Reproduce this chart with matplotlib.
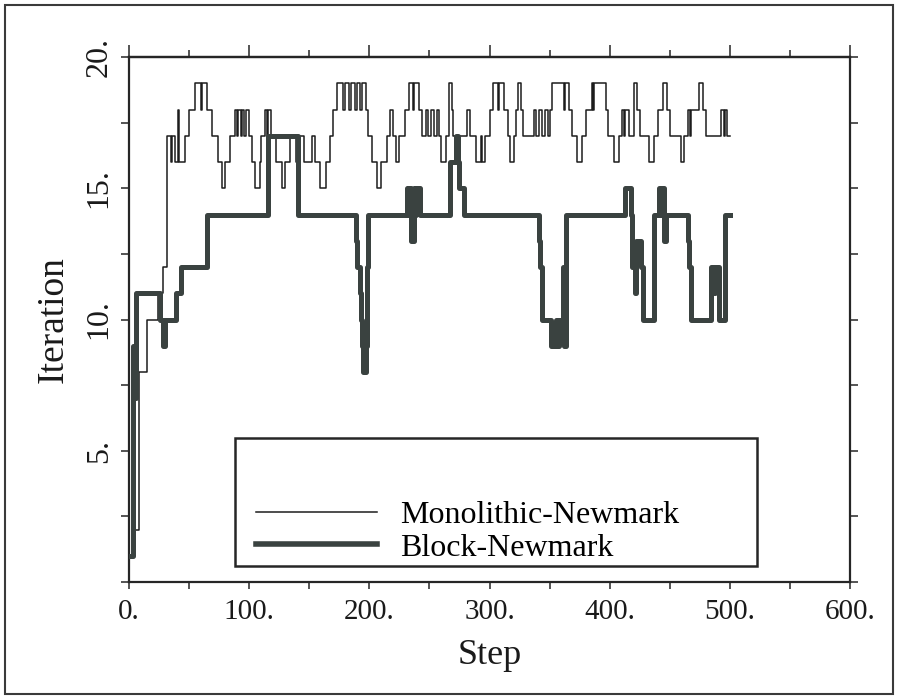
import matplotlib
matplotlib.use('Agg')
import matplotlib.pyplot as plt
from matplotlib.patches import Rectangle
import numpy as np

plt.rcParams['font.family'] = ['Liberation Serif', 'DejaVu Serif']

# step at which each value starts, and the iteration count
mono_start = [0, 3, 8, 15, 24, 28, 32, 35, 36, 38, 41, 42, 47, 50, 55, 60, 61, 65, 69, 74,
              77, 80, 84, 88, 90, 91, 93, 94, 96, 97, 100, 102, 105, 109, 110, 113, 115, 116, 118, 122,
              127, 130, 134, 139, 141, 146, 152, 155, 159, 164, 167, 170, 173, 178, 180, 183, 185, 188, 190, 192,
              194, 197, 199, 202, 206, 210, 215, 217, 220, 222, 225, 230, 233, 236, 237, 241, 244, 247, 249, 251,
              254, 256, 258, 260, 264, 266, 269, 270, 281, 284, 289, 293, 294, 296, 300, 303, 307, 308, 312, 315,
              317, 320, 322, 324, 326, 328, 337, 339, 341, 344, 346, 349, 350, 352, 362, 363, 366, 369, 373, 377,
              380, 385, 386, 387, 397, 399, 404, 408, 410, 412, 413, 416, 420, 423, 425, 433, 437, 440, 444, 448,
              450, 459, 462, 465, 467, 468, 474, 478, 480, 493, 495, 496, 498]
mono_iter = [1, 2, 8, 10, 11, 12, 17, 16, 17, 16, 18, 16, 17, 18, 19, 18, 19, 18, 17, 16,
             15, 16, 17, 18, 17, 18, 17, 18, 17, 18, 17, 16, 15, 16, 17, 18, 17, 18, 17, 16,
             15, 16, 17, 16, 17, 16, 17, 16, 15, 16, 17, 18, 19, 18, 19, 18, 19, 18, 19, 18,
             19, 18, 17, 16, 15, 16, 17, 18, 17, 16, 17, 18, 19, 18, 19, 18, 17, 18, 17, 18,
             17, 18, 17, 16, 17, 19, 18, 17, 18, 17, 16, 17, 16, 17, 18, 19, 18, 19, 18, 17,
             16, 17, 18, 19, 18, 17, 18, 17, 18, 17, 18, 17, 18, 19, 18, 19, 18, 17, 16, 17,
             18, 19, 18, 19, 18, 17, 16, 17, 18, 17, 18, 17, 19, 18, 17, 16, 17, 18, 19, 18,
             17, 16, 17, 18, 17, 18, 19, 18, 17, 18, 17, 18, 17]

block_start = [0, 3, 4, 6, 26, 28, 30, 39, 43, 65, 116, 141, 189, 190, 192, 193, 194, 195, 197, 198,
               199, 231, 232, 233, 235, 237, 238, 239, 242, 267, 272, 274, 275, 279, 341, 342, 344, 351, 355, 357,
               358, 361, 362, 364, 413, 418, 419, 421, 422, 426, 428, 437, 441, 443, 444, 445, 447, 465, 466, 468,
               484, 487, 488, 491, 496]
block_iter = [1, 9, 7, 11, 10, 9, 10, 11, 12, 14, 17, 14, 13, 12, 11, 10, 9, 8, 9, 12,
              14, 15, 14, 15, 13, 15, 14, 15, 14, 16, 17, 16, 15, 14, 13, 12, 10, 9, 10, 9,
              10, 12, 9, 14, 15, 14, 12, 11, 13, 12, 10, 14, 15, 14, 15, 13, 14, 13, 12, 10,
              12, 11, 12, 10, 14]
last_step = 500

x_ticks = [0, 100, 200, 300, 400, 500, 600]
y_ticks = [0, 2.5, 5, 7.5, 10, 12.5, 15, 17.5, 20]
labels = ['Monolithic-Newmark', 'Block-Newmark']

ink = '#262626'
thick_col = '#3a4240'

fig = plt.figure(figsize=(8.98, 6.99), dpi=100)
ax = fig.add_axes([129 / 898, 1 - 582 / 699, 721 / 898, 525 / 699])

mx = mono_start + [last_step]
my = mono_iter + [mono_iter[-1]]
bx = block_start + [last_step]
by = block_iter + [block_iter[-1]]
l1, = ax.step(mx, my, where='post', color='#1c1c1c', lw=1.1, zorder=3)
l2, = ax.step(bx, by, where='post', color=thick_col, lw=3.6, zorder=4)

ax.set_xlim(0, 600)
ax.set_ylim(0, 20)
ax.set_xticks(x_ticks)
ax.set_xticklabels([f'{v}.' for v in x_ticks])
ax.set_xticks(np.arange(50, 600, 100), minor=True)
ax.set_yticks(y_ticks)
ax.set_yticklabels(['' if (v % 5 or v == 0) else f'{int(v)}.' for v in y_ticks],
                   rotation=90, va='center')
ax.tick_params(axis='x', which='both', direction='out', length=5, width=1.1,
               color=ink, labelsize=21, pad=7, labelcolor='#1a1a1a')
ax.tick_params(axis='y', which='both', direction='out', length=6, width=1.1,
               left=True, right=True, color=ink, labelsize=23, pad=5, labelcolor='#1a1a1a')
for s in ax.spines.values():
    s.set_linewidth(1.6)
    s.set_color(ink)

top = ax.secondary_xaxis('top')
top.set_xticks(x_ticks)
top.set_xticklabels([])
top.set_xticks(np.arange(50, 600, 100), minor=True)
top.tick_params(which='major', direction='out', length=9, width=1.1, color=ink)
top.tick_params(which='minor', direction='out', length=5, width=1.1, color=ink)
top.spines['top'].set_linewidth(1.6)
top.spines['top'].set_color(ink)

fig.text(53 / 898, 1 - 320 / 699, 'Iteration', rotation=90, ha='center', va='center',
         fontsize=27, color='#1a1a1a')
fig.text(490 / 898, 1 - 655 / 699, 'Step', ha='center', va='center',
         fontsize=26, color='#1a1a1a')

# legend box with the entries sitting in its lower part
ax.add_patch(Rectangle((0.147, 0.0305), 0.724, 0.2435, transform=ax.transAxes,
                       facecolor='white', edgecolor=ink, lw=1.8, zorder=5))
leg = ax.legend([l1, l2], labels, loc='lower left', bbox_to_anchor=(0.176, 0.037),
                frameon=False, fontsize=23, handlelength=3.8, handletextpad=0.7,
                labelspacing=0.1, borderpad=0, borderaxespad=0)
leg.set_zorder(6)
leg.get_lines()[1].set_linewidth(4.0)

fig.add_artist(Rectangle((5 / 898, 5 / 699), 888 / 898, 689 / 699, transform=fig.transFigure,
                         fill=False, edgecolor='#3a3a3a', lw=1.5))

fig.savefig('out.png', dpi=100)
